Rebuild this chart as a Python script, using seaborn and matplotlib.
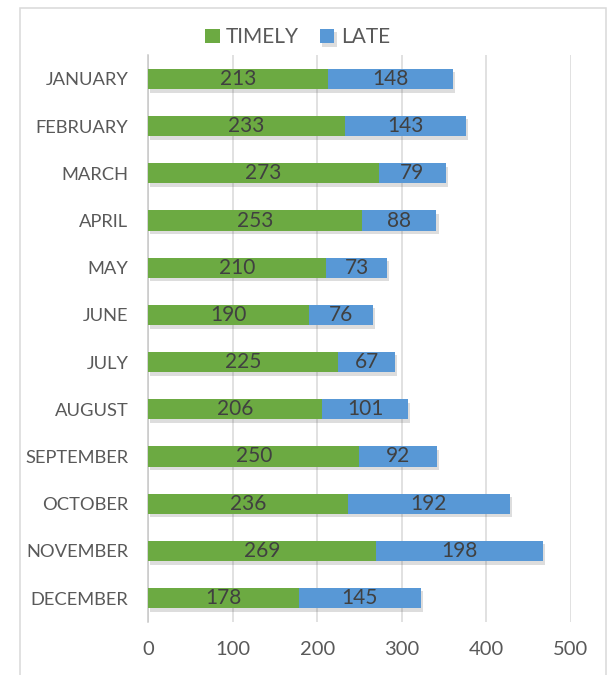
import pandas as pd
import matplotlib.pyplot as plt
import matplotlib.patheffects as pe
from matplotlib.patches import Rectangle
import seaborn as sns

months = ["JANUARY", "FEBRUARY", "MARCH", "APRIL", "MAY", "JUNE",
          "JULY", "AUGUST", "SEPTEMBER", "OCTOBER", "NOVEMBER", "DECEMBER"]
timely = [213, 233, 273, 253, 210, 190, 225, 206, 250, 236, 269, 178]
late = [148, 143, 79, 88, 73, 76, 67, 101, 92, 192, 198, 145]
x_ticks = [0, 100, 200, 300, 400, 500]

GREEN = "#6CAA42"
BLUE = "#5898D6"

df = pd.DataFrame({"Month": months, "TIMELY": timely, "LATE": late})
df["TOTAL"] = df["TIMELY"] + df["LATE"]

sns.set_theme(style="white")
plt.rcParams['font.family'] = ['Lato', 'DejaVu Sans']

fig = plt.figure(figsize=(6.11, 6.75), dpi=100)
ax = fig.add_axes([0.2422, 0.079, 0.6923, 0.839])

# stacked: draw totals (late) first, then timely on top
sns.barplot(data=df, x="TOTAL", y="Month", color=BLUE, width=0.43,
            saturation=1, ax=ax, label="LATE", linewidth=0, zorder=3)
sns.barplot(data=df, x="TIMELY", y="Month", color=GREEN, width=0.43,
            saturation=1, ax=ax, label="TIMELY", linewidth=0, zorder=3)

n = len(months)
blue_bars = ax.patches[:n]
for p in blue_bars:
    p.set_path_effects([pe.SimplePatchShadow(offset=(1.5, -2.5), alpha=0.2, shadow_rgbFace="#555555"), pe.Normal()])

# data labels
for i in range(n):
    ax.text(timely[i] / 2, i, str(timely[i]), ha="center", va="center",
            fontsize=15, color="#404040", zorder=5)
    ax.text(timely[i] + late[i] / 2, i, str(late[i]), ha="center", va="center",
            fontsize=15, color="#404040", zorder=5)

ax.set_xlim(0, 500)
ax.set_ylim(n - 0.5, -0.5)
ax.set_xticks(x_ticks)
ax.set_xlabel("")
ax.set_ylabel("")
ax.grid(axis="x", color="#d9d9d9", linewidth=1.1, zorder=0)
ax.set_axisbelow(True)
for side in ["top", "right", "bottom"]:
    ax.spines[side].set_visible(False)
ax.spines["left"].set_color("#c8c8c8")
ax.spines["left"].set_linewidth(1.1)
ax.tick_params(axis="x", length=0, pad=14, labelsize=14.5, labelcolor="#595959")
ax.tick_params(axis="y", length=0, pad=14, labelsize=13.2, labelcolor="#595959")

handles, labels = ax.get_legend_handles_labels()
order = [labels.index("TIMELY"), labels.index("LATE")]
fig.legend([handles[k] for k in order], [labels[k] for k in order],
           loc="center", bbox_to_anchor=(0.487, 0.945), ncol=2, frameon=False,
           fontsize=15, labelcolor="#595959", handlelength=0.7, handleheight=0.7,
           handletextpad=0.3, columnspacing=1.0)
if ax.get_legend() is not None:
    ax.get_legend().remove()

# chart border
fig.patches.append(Rectangle((19.5 / 611, -0.01), (605.5 - 19.5) / 611, 1 - 7.5 / 675 + 0.01,
                             transform=fig.transFigure, fill=False,
                             edgecolor="#d9d9d9", linewidth=1.1))

fig.savefig("out.png", dpi=100)
